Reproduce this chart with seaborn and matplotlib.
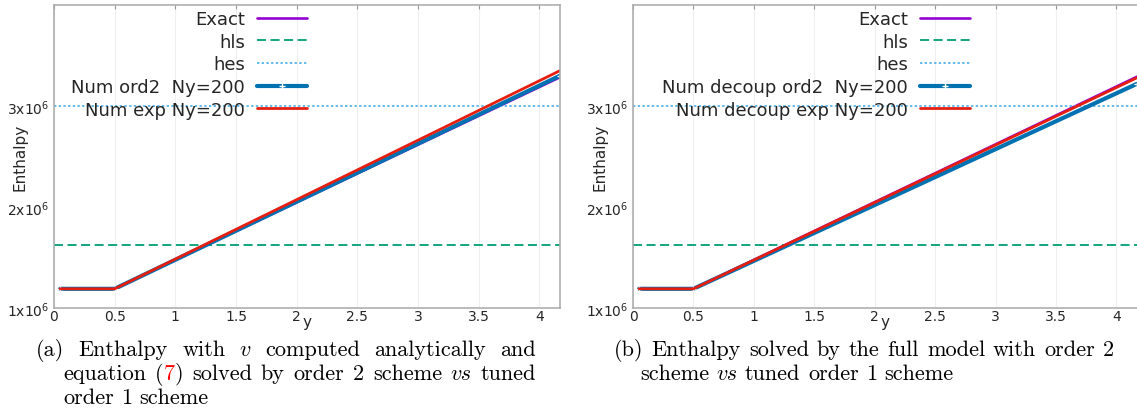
import numpy as np
import pandas as pd
import matplotlib
matplotlib.use("Agg")
import matplotlib.pyplot as plt
import seaborn as sns
from matplotlib.transforms import IdentityTransform

# values
y_pos = [0.05, 0.5, 4.17]
exact_a = [1.19e6, 1.19e6, 3.285e6]
ord2_a = [1.19e6, 1.19e6, 3.30e6]
exp_a = [1.19e6, 1.19e6, 3.35e6]
exact_b = [1.19e6, 1.19e6, 3.29e6]
ord2_b = [1.19e6, 1.19e6, 3.22e6]
exp_b = [1.19e6, 1.19e6, 3.28e6]
hls = 1.62e6
hes = 3.0e6

x_ticks = [0, 0.5, 1, 1.5, 2, 2.5, 3, 3.5, 4]
x_labels = ["0", "0.5", "1", "1.5", "2", "2.5", "3", "3.5", "4"]
y_ticks = [1e6, 2e6, 3e6]
y_labels = ["1x10$^{6}$", "2x10$^{6}$", "3x10$^{6}$"]

labels_a = ["Exact", "hls", "hes", "Num ord2  Ny=200", "Num exp Ny=200"]
labels_b = ["Exact", "hls", "hes", "Num decoup ord2  Ny=200", "Num decoup exp Ny=200"]

c_exact = "#9400d3"
c_hls = "#009e73"
c_hes = "#56b4e9"
c_ord2 = "#0072b2"
c_exp = "#e51e10"

sns.set_style("white")
plt.rcParams["font.family"] = ["DejaVu Sans"]
plt.rcParams["mathtext.fontset"] = "dejavusans"

W, H = 1137, 414
fig = plt.figure(figsize=(W / 100, H / 100), dpi=100)

def make_axes(x0, x1, y0, y1):
    return fig.add_axes([x0 / W, 1 - y1 / H, (x1 - x0) / W, (y1 - y0) / H])

ax_a = make_axes(54, 560, 6, 309)
ax_b = make_axes(633, 1137, 6, 309)

def draw_panel(ax, exact, ord2, exp, labels, leg_x, right_spine=True):
    df = pd.DataFrame({"y": y_pos, "exact": exact, "ord2": ord2, "exp": exp})
    sns.lineplot(data=df, x="y", y="exact", ax=ax, color=c_exact, lw=1.9, label=labels[0])
    ax.axhline(hls, color=c_hls, lw=1.3, ls=(0, (5, 2.5)), label=labels[1])
    ax.axhline(hes, color=c_hes, lw=1.3, ls=(0, (1.3, 1.3)), label=labels[2])
    sns.lineplot(data=df, x="y", y="ord2", ax=ax, color=c_ord2, lw=3.0,
                 marker="+", markersize=4, markeredgewidth=1, label=labels[3])
    sns.lineplot(data=df, x="y", y="exp", ax=ax, color=c_exp, lw=2.0, label=labels[4])

    ax.set_xlim(0, 4.17)
    ax.set_ylim(1e6, 4e6)
    ax.set_xticks(x_ticks)
    ax.set_xticklabels(x_labels)
    ax.set_yticks(y_ticks)
    ax.set_yticklabels(y_labels)
    ax.tick_params(labelsize=10, direction="in", length=3, width=0.8,
                   color="#999999", pad=1, top=True, right=False)
    ax.tick_params(axis="y", pad=3)
    ax.grid(axis="x", color="#efefef", lw=0.8)
    for s in ax.spines.values():
        s.set_color("#a8a8a8")
        s.set_linewidth(1.1)
    ax.spines["right"].set_visible(right_spine)

    ax.set_xlabel("y", fontsize=11, labelpad=-7)
    ax.set_ylabel("Enthalpy", fontsize=11)
    ax.yaxis.set_label_coords(-26 / 506, 0.5)

    ax.legend(loc="upper right", bbox_to_anchor=(leg_x, 0.99), markerfirst=False,
              frameon=False, fontsize=13, handlelength=2.8, handletextpad=0.65,
              labelspacing=0.26, borderpad=0, borderaxespad=0.1, numpoints=1)

draw_panel(ax_a, exact_a, ord2_a, exp_a, labels_a, (309 - 54) / 506)
draw_panel(ax_b, exact_b, ord2_b, exp_b, labels_b, (972 - 633) / 504, right_spine=False)

# captions, set like the LaTeX subcaptions (justified)
renderer = fig.canvas.get_renderer()
cap_size = 16
RM, IT = "cmr10", "cmmi10"

def put_line(words, x0, y, x1=None):
    arts = []
    for w in words:
        if isinstance(w, str):
            w = [(w, "black", RM)]
        parts = [fig.text(0, 0, s, color=c, fontsize=cap_size, family=f,
                          transform=IdentityTransform(), va="baseline", ha="left")
                 for s, c, f in w]
        arts.append(parts)
    widths = [[p.get_window_extent(renderer).width for p in parts] for parts in arts]
    total = sum(sum(w) for w in widths)
    if x1 is None or len(arts) < 2:
        gap = cap_size * 100 / 72 * 0.333
    else:
        gap = (x1 - x0 - total) / (len(arts) - 1)
    x = x0
    for parts, ws in zip(arts, widths):
        for p, w in zip(parts, ws):
            p.set_position((x, H - y))
            x += w
        x += gap

v_it = [("v", "black", IT)]
vs_it = [("vs", "black", IT)]
put_line(["(a)", "Enthalpy", "with", v_it, "computed", "analytically", "and"], 36, 356, 536)
put_line(["equation", [("(", "black", RM), ("7", "red", RM), (")", "black", RM)], "solved",
          "by", "order", "2", "scheme", vs_it, "tuned"], 63, 380, 536)
put_line(["order", "1", "scheme"], 63, 404)

put_line(["(b)", "Enthalpy", "solved", "by", "the", "full", "model", "with", "order", "2"],
         614, 356, 1114)
put_line(["scheme", vs_it, "tuned", "order", "1", "scheme"], 640, 380)

fig.savefig("out.png", dpi=100)
